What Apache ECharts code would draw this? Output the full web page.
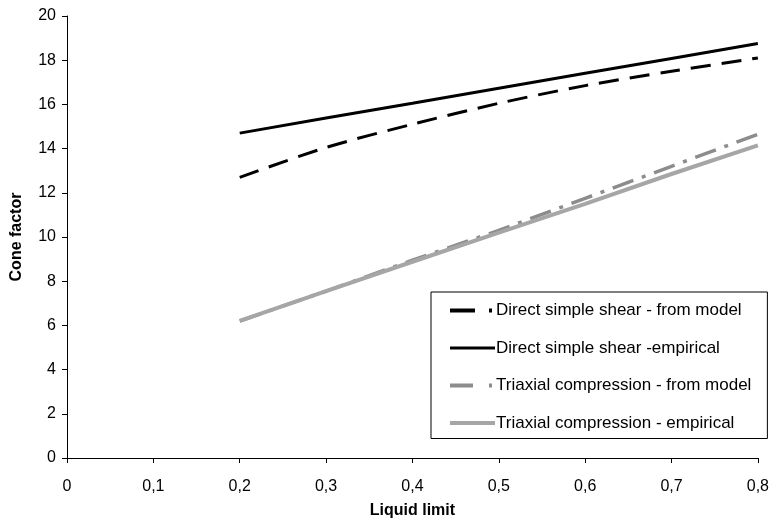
<!DOCTYPE html>
<html>
<head>
<meta charset="utf-8">
<script src="https://cdn.jsdelivr.net/npm/echarts@6/dist/echarts.min.js"></script>
<style>
  html, body { margin: 0; padding: 0; background: #fff; }
  #chart { width: 772px; height: 525px; }
</style>
</head>
<body>
<div id="chart"></div>
<script>
// liquid limit values
const liquidLimit = [0.2, 0.3, 0.4, 0.5, 0.6, 0.7, 0.8]
// cone factor
const dssModel = [12.7, 14.05, 15.1, 16.05, 16.85, 17.5, 18.1]
const dssEmpirical = [14.7, 15.38, 16.05, 16.73, 17.41, 18.08, 18.76]
const txModel = [6.2, 7.55, 8.95, 10.3, 11.75, 13.2, 14.65]
const txEmpirical = [6.2, 7.55, 8.88, 10.2, 11.5, 12.85, 14.15]

const font = 'Liberation Sans, Arial, sans-serif'

function pairs(ys) {
  return liquidLimit.map((x, i) => [x, ys[i]])
}

const chart = echarts.init(document.getElementById('chart'))
chart.setOption({
  animation: false,
  textStyle: { fontFamily: font },
  grid: { left: 67, right: 11, top: 16, bottom: 67 },
  legend: {
    orient: 'vertical',
    left: 431,
    top: 292,
    padding: [10, 16, 7, 17],
    itemWidth: 45,
    itemHeight: 14,
    itemGap: 20.5,
    borderColor: '#000',
    borderWidth: 1,
    // hide the marker dot, keep only the line sample
    itemStyle: { color: 'transparent', borderColor: 'transparent', borderWidth: 0 },
    textStyle: { fontSize: 17, color: '#000', padding: [0, 0, 0, -4] },
    data: [
      { name: 'Direct simple shear - from model', lineStyle: { width: 4, type: [25, 14, 3, 20] } },
      { name: 'Direct simple shear -empirical', lineStyle: { width: 3 } },
      { name: 'Triaxial compression - from model', lineStyle: { width: 4, type: [23, 16, 3, 20] } },
      { name: 'Triaxial compression - empirical', lineStyle: { width: 4 } }
    ]
  },
  xAxis: {
    type: 'value',
    min: 0,
    max: 0.8,
    interval: 0.1,
    name: 'Liquid limit',
    nameLocation: 'middle',
    nameGap: 45,
    nameTextStyle: { fontSize: 16, fontWeight: 'bold', color: '#000' },
    axisLine: { lineStyle: { color: '#000' } },
    axisTick: { show: true, length: 5, lineStyle: { color: '#000' } },
    axisLabel: {
      fontSize: 16,
      color: '#000',
      margin: 21,
      formatter: v => v === 0 ? '0' : v.toFixed(1).replace('.', ',')
    },
    splitLine: { show: false }
  },
  yAxis: {
    type: 'value',
    min: 0,
    max: 20,
    interval: 2,
    name: 'Cone factor',
    nameLocation: 'middle',
    nameGap: 42,
    nameTextStyle: { fontSize: 16, fontWeight: 'bold', color: '#000' },
    axisLine: { show: true, lineStyle: { color: '#000' } },
    axisTick: { show: true, length: 5, lineStyle: { color: '#000' } },
    axisLabel: { fontSize: 16, color: '#000', margin: 11 },
    splitLine: { show: false }
  },
  series: [
    {
      name: 'Direct simple shear - from model',
      type: 'line',
      data: pairs(dssModel),
      symbol: 'none',
      smooth: 0.3,
      lineStyle: { color: '#000', width: 3, type: [20, 11] },
      itemStyle: { color: '#000' }
    },
    {
      name: 'Direct simple shear -empirical',
      type: 'line',
      data: pairs(dssEmpirical),
      symbol: 'none',
      lineStyle: { color: '#000', width: 3 },
      itemStyle: { color: '#000' }
    },
    {
      name: 'Triaxial compression - from model',
      type: 'line',
      data: pairs(txModel),
      symbol: 'none',
      lineStyle: { color: '#8c8c8c', width: 3.5, type: [22, 9, 4, 9] },
      itemStyle: { color: '#8c8c8c' }
    },
    {
      name: 'Triaxial compression - empirical',
      type: 'line',
      data: pairs(txEmpirical),
      symbol: 'none',
      lineStyle: { color: '#a6a6a6', width: 4 },
      itemStyle: { color: '#a6a6a6' }
    }
  ]
})
</script>
</body>
</html>
